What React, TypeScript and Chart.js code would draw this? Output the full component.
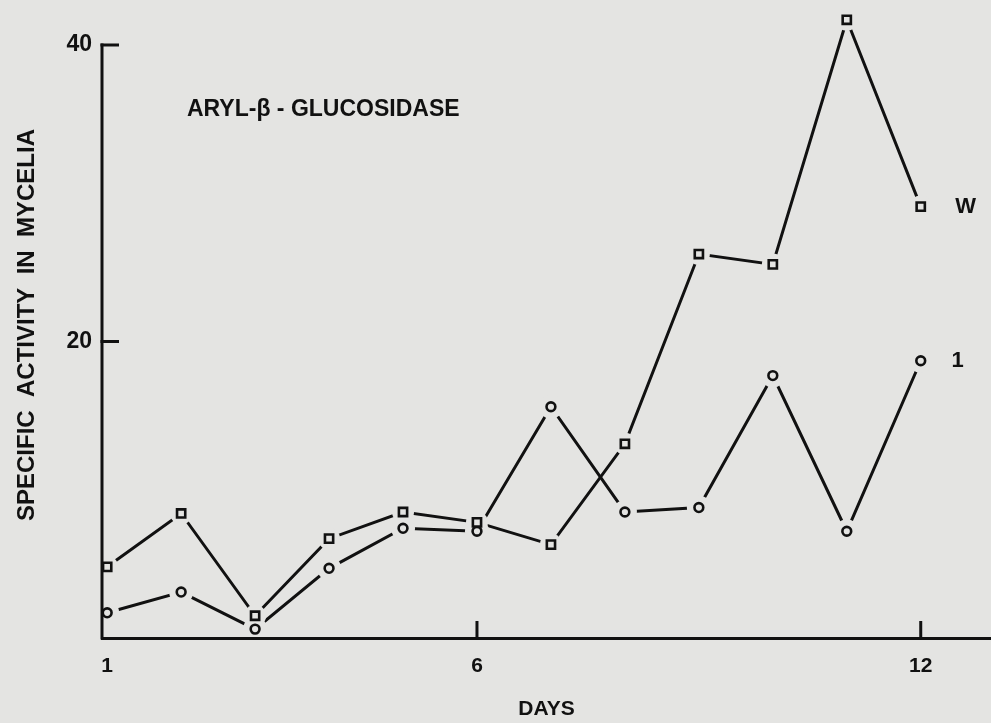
import React, { useEffect, useRef } from 'react';
import { Chart, registerables } from 'chart.js';

Chart.register(...registerables);

// ---- data ----
const DAYS = [1, 2, 3, 4, 5, 6, 7, 8, 9, 10, 11, 12];
const SERIES_W = [4.8, 8.4, 1.5, 6.7, 8.5, 7.8, 6.3, 13.1, 25.9, 25.2, 41.7, 29.1];
const SERIES_1 = [1.7, 3.1, 0.6, 4.7, 7.4, 7.2, 15.6, 8.5, 8.8, 17.7, 7.2, 18.7];
const SERIES_NAMES = ['W', '1'];
const X_TICKS = [1, 6, 12];
const Y_TICKS = [20, 40];
const Y_AXIS_TOP = 40;
const TITLE = 'ARYL-β - GLUCOSIDASE';
const X_TITLE = 'DAYS';
const Y_TITLE = 'SPECIFIC  ACTIVITY  IN  MYCELIA';

// ---- styles ----
const BG = '#e4e4e2';
const INK = '#111111';
const FONT = '"Liberation Sans", Arial, sans-serif';

const toPoints = (ys: number[]) => DAYS.map((d, i) => ({ x: d, y: ys[i] }));

const decorPlugin = {
  id: 'decor',
  afterDraw(chart: any) {
    const { ctx, chartArea: ca, scales } = chart;
    const x = scales.x;
    const y = scales.y;
    const y0 = y.getPixelForValue(0);
    const yTop = y.getPixelForValue(Y_AXIS_TOP);
    ctx.save();
    ctx.strokeStyle = INK;
    ctx.lineWidth = 3;
    ctx.lineCap = 'butt';
    // vertical axis line (0 .. 40)
    ctx.beginPath();
    ctx.moveTo(ca.left, y0 + 1.5);
    ctx.lineTo(ca.left, yTop - 1.5);
    ctx.stroke();
    // inward tick marks
    Y_TICKS.forEach((v) => {
      const py = y.getPixelForValue(v);
      ctx.beginPath();
      ctx.moveTo(ca.left - 1.5, py);
      ctx.lineTo(ca.left + 17, py);
      ctx.stroke();
    });
    X_TICKS.forEach((v) => {
      const px = x.getPixelForValue(v);
      if (px - ca.left < 10) return;
      ctx.beginPath();
      ctx.moveTo(px, y0);
      ctx.lineTo(px, y0 - 17);
      ctx.stroke();
    });
    ctx.fillStyle = INK;
    // in-plot title
    ctx.font = `bold 23px ${FONT}`;
    ctx.textBaseline = 'middle';
    ctx.textAlign = 'left';
    ctx.fillText(TITLE, ca.left + 85, yTop + 65);
    // series labels
    ctx.font = `bold 22px ${FONT}`;
    const last = DAYS.length - 1;
    const lastX = x.getPixelForValue(DAYS[last]);
    ctx.textAlign = 'center';
    ctx.fillText(SERIES_NAMES[0], lastX + 45, y.getPixelForValue(SERIES_W[last]));
    ctx.fillText(SERIES_NAMES[1], lastX + 37, y.getPixelForValue(SERIES_1[last]));
    // y axis title
    ctx.font = `bold 24px ${FONT}`;
    ctx.translate(27, 325);
    ctx.rotate(-Math.PI / 2);
    ctx.textAlign = 'center';
    ctx.fillText(Y_TITLE, 0, 0);
    ctx.restore();
  },
};

export default function App() {
  const ref = useRef<HTMLCanvasElement | null>(null);

  useEffect(() => {
    if (!ref.current) return;
    const tickFont = { family: FONT, size: 21, weight: 'bold' as const };
    const lineDs = (ys: number[]) => ({
      data: toPoints(ys),
      borderColor: INK,
      borderWidth: 3,
      pointRadius: 0,
      showLine: true,
      fill: false,
      tension: 0,
      clip: false as const,
      order: 3,
    });
    const maskDs = (ys: number[], r: number) => ({
      data: toPoints(ys),
      showLine: false,
      pointRadius: r,
      pointBorderWidth: 0,
      pointBackgroundColor: BG,
      pointBorderColor: BG,
      clip: false as const,
      order: 2,
    });
    const markDs = (ys: number[], style: string, r: number) => ({
      data: toPoints(ys),
      showLine: false,
      pointStyle: style,
      pointRadius: r,
      pointBorderWidth: 2.6,
      pointBorderColor: INK,
      pointBackgroundColor: BG,
      clip: false as const,
      order: 1,
    });

    const chart = new Chart(ref.current, {
      type: 'scatter',
      data: {
        datasets: [
          lineDs(SERIES_W),
          lineDs(SERIES_1),
          maskDs(SERIES_W, 11),
          maskDs(SERIES_1, 12),
          markDs(SERIES_W, 'rect', 5.8),
          markDs(SERIES_1, 'circle', 4.4),
        ] as any,
      },
      options: {
        animation: false,
        responsive: false,
        devicePixelRatio: 1,
        events: [],
        layout: { autoPadding: false, padding: { top: 2, right: 0, bottom: 0, left: 0 } },
        plugins: {
          legend: { display: false },
          tooltip: { enabled: false },
          title: { display: false },
        },
        scales: {
          x: {
            type: 'linear',
            min: 0.93,
            max: 12.95,
            afterBuildTicks: (s: any) => {
              s.ticks = X_TICKS.map((v) => ({ value: v }));
            },
            afterFit: (s: any) => {
              s.height = 85;
              s.paddingLeft = 0;
              s.paddingRight = 0;
            },
            grid: { display: false, drawTicks: false },
            border: { display: true, color: INK, width: 3, z: 1 },
            ticks: {
              color: INK,
              font: tickFont,
              padding: 16,
              maxRotation: 0,
              autoSkip: false,
            },
            title: {
              display: true,
              text: X_TITLE,
              color: INK,
              font: tickFont,
              padding: { top: 0, bottom: 1 },
            },
          },
          y: {
            type: 'linear',
            min: 0,
            max: 42.9,
            afterBuildTicks: (s: any) => {
              s.ticks = Y_TICKS.map((v) => ({ value: v }));
            },
            afterFit: (s: any) => {
              s.width = 102;
              s.paddingTop = 0;
              s.paddingBottom = 0;
            },
            grid: { display: false, drawTicks: false },
            border: { display: false },
            ticks: {
              color: INK,
              font: { family: FONT, size: 23, weight: 'bold' },
              padding: 10,
              autoSkip: false,
            },
            title: { display: false },
          },
        },
      } as any,
      plugins: [decorPlugin],
    });
    return () => chart.destroy();
  }, []);

  return (
    <div
      style={{
        position: 'fixed',
        left: 0,
        top: 0,
        width: 991,
        height: 723,
        background: BG,
      }}
    >
      <canvas ref={ref} width={991} height={723} style={{ display: 'block' }} />
    </div>
  );
}
